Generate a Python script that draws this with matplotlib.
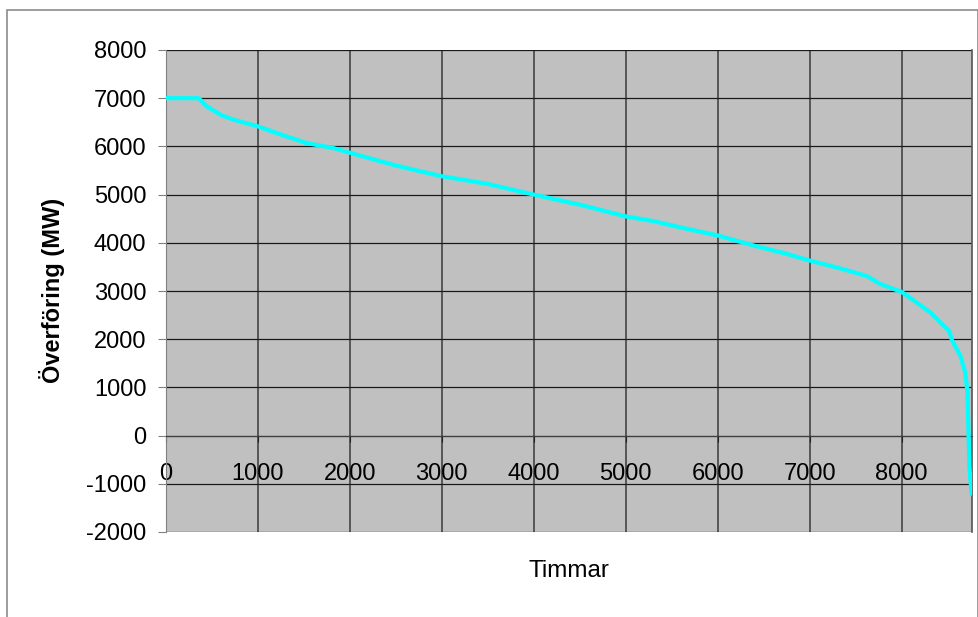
import matplotlib
matplotlib.use("Agg")
import matplotlib.pyplot as plt
from matplotlib.patches import Rectangle

plt.rcParams['font.family'] = ['Liberation Sans', 'DejaVu Sans']
plt.rcParams['axes.unicode_minus'] = False

# load duration curve
hours = [0, 360, 445, 608, 735, 1000, 1279, 1533, 1822, 2000, 2500, 3000, 3500,
         4000, 4500, 5000, 5300, 5660, 6000, 6390, 6750, 7000, 7290, 7620, 7760,
         8000, 8130, 8310, 8420, 8515, 8545, 8635, 8690, 8715, 8725, 8735, 8745, 8760]
mw = [7000, 7000, 6833, 6646, 6556, 6417, 6229, 6069, 5965, 5870, 5604, 5381, 5222,
      5000, 4792, 4548, 4450, 4292, 4152, 3944, 3771, 3631, 3492, 3312, 3152,
      2979, 2805, 2556, 2348, 2175, 1980, 1667, 1313, 896, 117, -646, -883, -1200]

x_ticks = [0, 1000, 2000, 3000, 4000, 5000, 6000, 7000, 8000]
y_ticks = [-2000, -1000, 0, 1000, 2000, 3000, 4000, 5000, 6000, 7000, 8000]

W, H = 979, 617
fig = plt.figure(figsize=(W / 100, H / 100), dpi=100)
ax = fig.add_axes([165.7 / W, 1 - 532 / H, (972.3 - 165.7) / W, (532 - 50) / H])

# outer chart border (bottom runs off the image)
fig.add_artist(Rectangle((7.5 / W, -0.05), (978 - 7.5) / W, 1.05 - 10 / H,
                         transform=fig.transFigure, fill=False,
                         edgecolor='#8c8c8c', linewidth=1.2))

ax.set_facecolor('#c0c0c0')
ax.plot(hours, mw, color='#00ffff', linewidth=3, solid_joinstyle='round', zorder=3)

ax.set_xlim(0, 8767)
ax.set_ylim(-2000, 8000)
ax.set_xticks(x_ticks)
ax.set_yticks(y_ticks)

ax.grid(axis='y', color='#1a1a1a', linewidth=0.9, zorder=1)
ax.grid(axis='x', color='#3a3a3a', linewidth=1.1, zorder=1)
ax.set_axisbelow(True)

ax.spines['top'].set_visible(False)
ax.spines['left'].set_color('#808080')
ax.spines['right'].set_color('#555555')
ax.spines['right'].set_linewidth(1.2)
ax.spines['bottom'].set_position(('data', 0))
ax.spines['bottom'].set_color('#404040')

ax.tick_params(axis='y', direction='out', length=6, width=0.8, color='#808080',
               labelsize=17, pad=8, labelcolor='black')
ax.tick_params(axis='x', direction='out', length=4.5, width=0.8, color='#202020',
               labelsize=17, pad=15, labelcolor='black')

fig.text(51.7 / W, 1 - 290 / H, 'Överföring (MW)', rotation=90, ha='center',
         va='center', fontsize=17, fontweight='bold')
fig.text(569 / W, 1 - 571 / H, 'Timmar', ha='center', va='center', fontsize=17.5)

fig.savefig('out.png', dpi=100, facecolor='white')
